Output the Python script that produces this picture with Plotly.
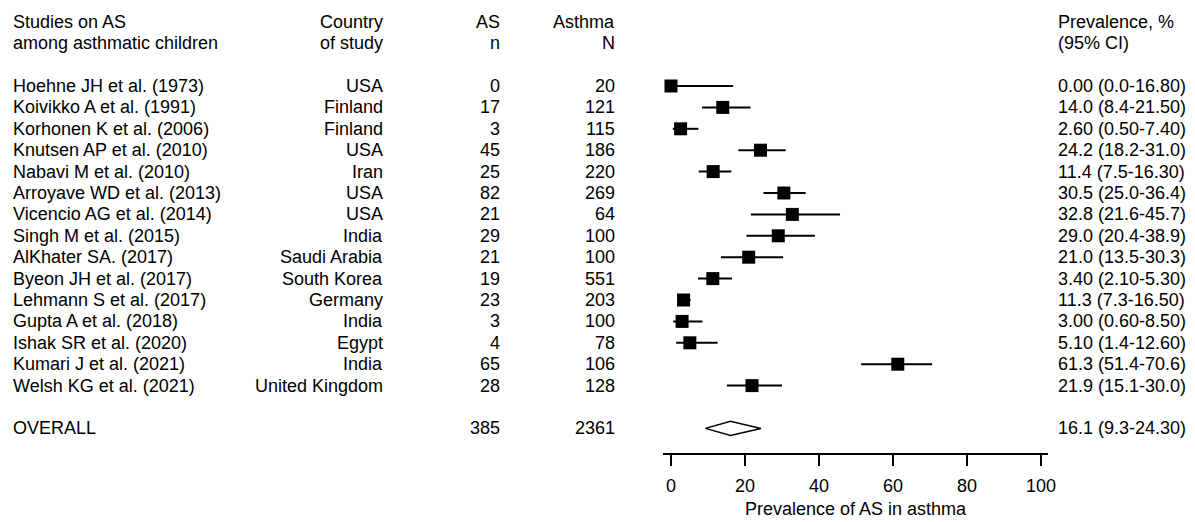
import plotly.graph_objects as go

studies = ["Hoehne JH et al. (1973)", "Koivikko A et al. (1991)", "Korhonen K et al. (2006)",
           "Knutsen AP et al. (2010)", "Nabavi M et al. (2010)", "Arroyave WD et al. (2013)",
           "Vicencio AG et al. (2014)", "Singh M et al. (2015)", "AlKhater SA. (2017)",
           "Byeon JH et al. (2017)", "Lehmann S et al. (2017)", "Gupta A et al. (2018)",
           "Ishak SR et al. (2020)", "Kumari J et al. (2021)", "Welsh KG et al. (2021)"]
countries = ["USA", "Finland", "Finland", "USA", "Iran", "USA", "USA", "India", "Saudi Arabia",
             "South Korea", "Germany", "India", "Egypt", "India", "United Kingdom"]
as_n = [0, 17, 3, 45, 25, 82, 21, 29, 21, 19, 23, 3, 4, 65, 28]
asthma_N = [20, 121, 115, 186, 220, 269, 64, 100, 100, 551, 203, 100, 78, 106, 128]
prev_text = ["0.00 (0.0-16.80)", "14.0 (8.4-21.50)", "2.60 (0.50-7.40)", "24.2 (18.2-31.0)",
             "11.4 (7.5-16.30)", "30.5 (25.0-36.4)", "32.8 (21.6-45.7)", "29.0 (20.4-38.9)",
             "21.0 (13.5-30.3)", "3.40 (2.10-5.30)", "11.3 (7.3-16.50)", "3.00 (0.60-8.50)",
             "5.10 (1.4-12.60)", "61.3 (51.4-70.6)", "21.9 (15.1-30.0)"]
# plotted estimates, as drawn in the figure
est = [0.0, 14.0, 2.6, 24.2, 11.4, 30.5, 32.8, 29.0, 21.0, 11.3, 3.4, 3.0, 5.1, 61.3, 21.9]
lo = [0.0, 8.4, 0.5, 18.2, 7.5, 25.0, 21.6, 20.4, 13.5, 7.3, 2.1, 0.6, 1.4, 51.4, 15.1]
hi = [16.8, 21.5, 7.4, 31.0, 16.3, 36.4, 45.7, 38.9, 30.3, 16.5, 5.3, 8.5, 12.6, 70.6, 30.0]

overall_label = "OVERALL"
overall_n = 385
overall_N = 2361
overall_est, overall_lo, overall_hi = 16.1, 9.3, 24.3
overall_text = "16.1 (9.3-24.30)"

headers = [("Studies on AS", "among asthmatic children"), ("Country", "of study"),
           ("AS", "n"), ("Asthma", "N"), ("Prevalence, %", "(95% CI)")]
x_ticks = [0, 20, 40, 60, 80, 100]
x_title = "Prevalence of AS in asthma"

FONT = "Liberation Sans, Arial, sans-serif"
FS = 18
W, H = 1195, 522

rows = list(range(len(studies)))
overall_row = len(studies) + 1

fig = go.Figure()

# study point estimates with CI
fig.add_trace(go.Scatter(
    x=est, y=rows, mode="markers", xaxis="x", yaxis="y2",
    marker=dict(symbol="square", size=13, color="black", line=dict(width=0)),
    error_x=dict(type="data", symmetric=False,
                 array=[h - e for h, e in zip(hi, est)],
                 arrayminus=[e - l for e, l in zip(est, lo)],
                 color="black", thickness=2, width=0),
    showlegend=False, hoverinfo="skip", cliponaxis=False))

# overall diamond
dh = 0.33
fig.add_trace(go.Scatter(
    x=[overall_lo, overall_est, overall_hi, overall_est, overall_lo],
    y=[overall_row, overall_row - dh, overall_row, overall_row + dh, overall_row],
    mode="lines", fill="toself", fillcolor="white",
    line=dict(color="black", width=1.5), xaxis="x", yaxis="y2",
    showlegend=False, hoverinfo="skip"))

# invisible anchor trace for the text axes
fig.add_trace(go.Scatter(x=[0], y=[0], mode="markers", marker=dict(opacity=0),
                         xaxis="x2", yaxis="y", showlegend=False, hoverinfo="skip"))

col_x = [11, 385, 502, 617, 1056]
col_anchor = ["left", "right", "right", "right", "left"]

anns = []
def add(text, col, y):
    anns.append(dict(text=str(text), x=col_x[col], y=y, xref="x2", yref="y",
                     xanchor=col_anchor[col], yanchor="middle", showarrow=False,
                     font=dict(family=FONT, size=FS, color="black")))

for c, (h1, h2) in enumerate(headers):
    add(h1, c, -3)
    add(h2, c, -2)

for i in rows:
    add(studies[i], 0, i)
    add(countries[i], 1, i)
    add(as_n[i], 2, i)
    add(asthma_N[i], 3, i)
    add(prev_text[i], 4, i)

add(overall_label, 0, overall_row)
add(overall_n, 2, overall_row)
add(overall_N, 3, overall_row)
add(overall_text, 4, overall_row)

top_px, step = 86.0, 21.4
axis_px = 452.5
y_top = -top_px / step
y_bot = (H - top_px) / step
y2_bot = (axis_px - top_px) / step

# axis title below the tick labels
anns.append(dict(text=x_title, x=50, y=(509 - top_px) / step, xref="x", yref="y",
                 xanchor="center", yanchor="middle", showarrow=False,
                 font=dict(family=FONT, size=FS, color="black")))

fig.update_layout(
    width=W, height=H, margin=dict(l=0, r=0, t=0, b=0, autoexpand=False),
    paper_bgcolor="white", plot_bgcolor="rgba(0,0,0,0)",
    font=dict(family=FONT, size=FS, color="black"),
    annotations=anns,
    xaxis=dict(domain=[663 / W, 1048 / W], range=[-2.16, 101.9], anchor="y2",
               showline=True, linewidth=2, linecolor="black",
               ticks="outside", ticklen=11, tickwidth=2, tickcolor="black",
               tickvals=x_ticks, ticktext=[str(t) for t in x_ticks],
               tickfont=dict(family=FONT, size=FS, color="black"),
               ticklabelstandoff=5,
               showgrid=False, zeroline=False),
    yaxis2=dict(domain=[1 - axis_px / H, 1], range=[y2_bot, y_top], visible=False,
                anchor="x"),
    xaxis2=dict(domain=[0, 1], range=[0, W], visible=False, anchor="y"),
    yaxis=dict(domain=[0, 1], range=[y_bot, y_top], visible=False, anchor="x2"),
)

post = ("document.body.style.margin='0';document.body.style.padding='0';"
        "var gd=document.getElementById('{plot_id}');"
        "Plotly.relayout(gd,{width:%d,height:%d});" % (W, H))
fig.write_html("out.html", post_script=post, config={"displayModeBar": False})
